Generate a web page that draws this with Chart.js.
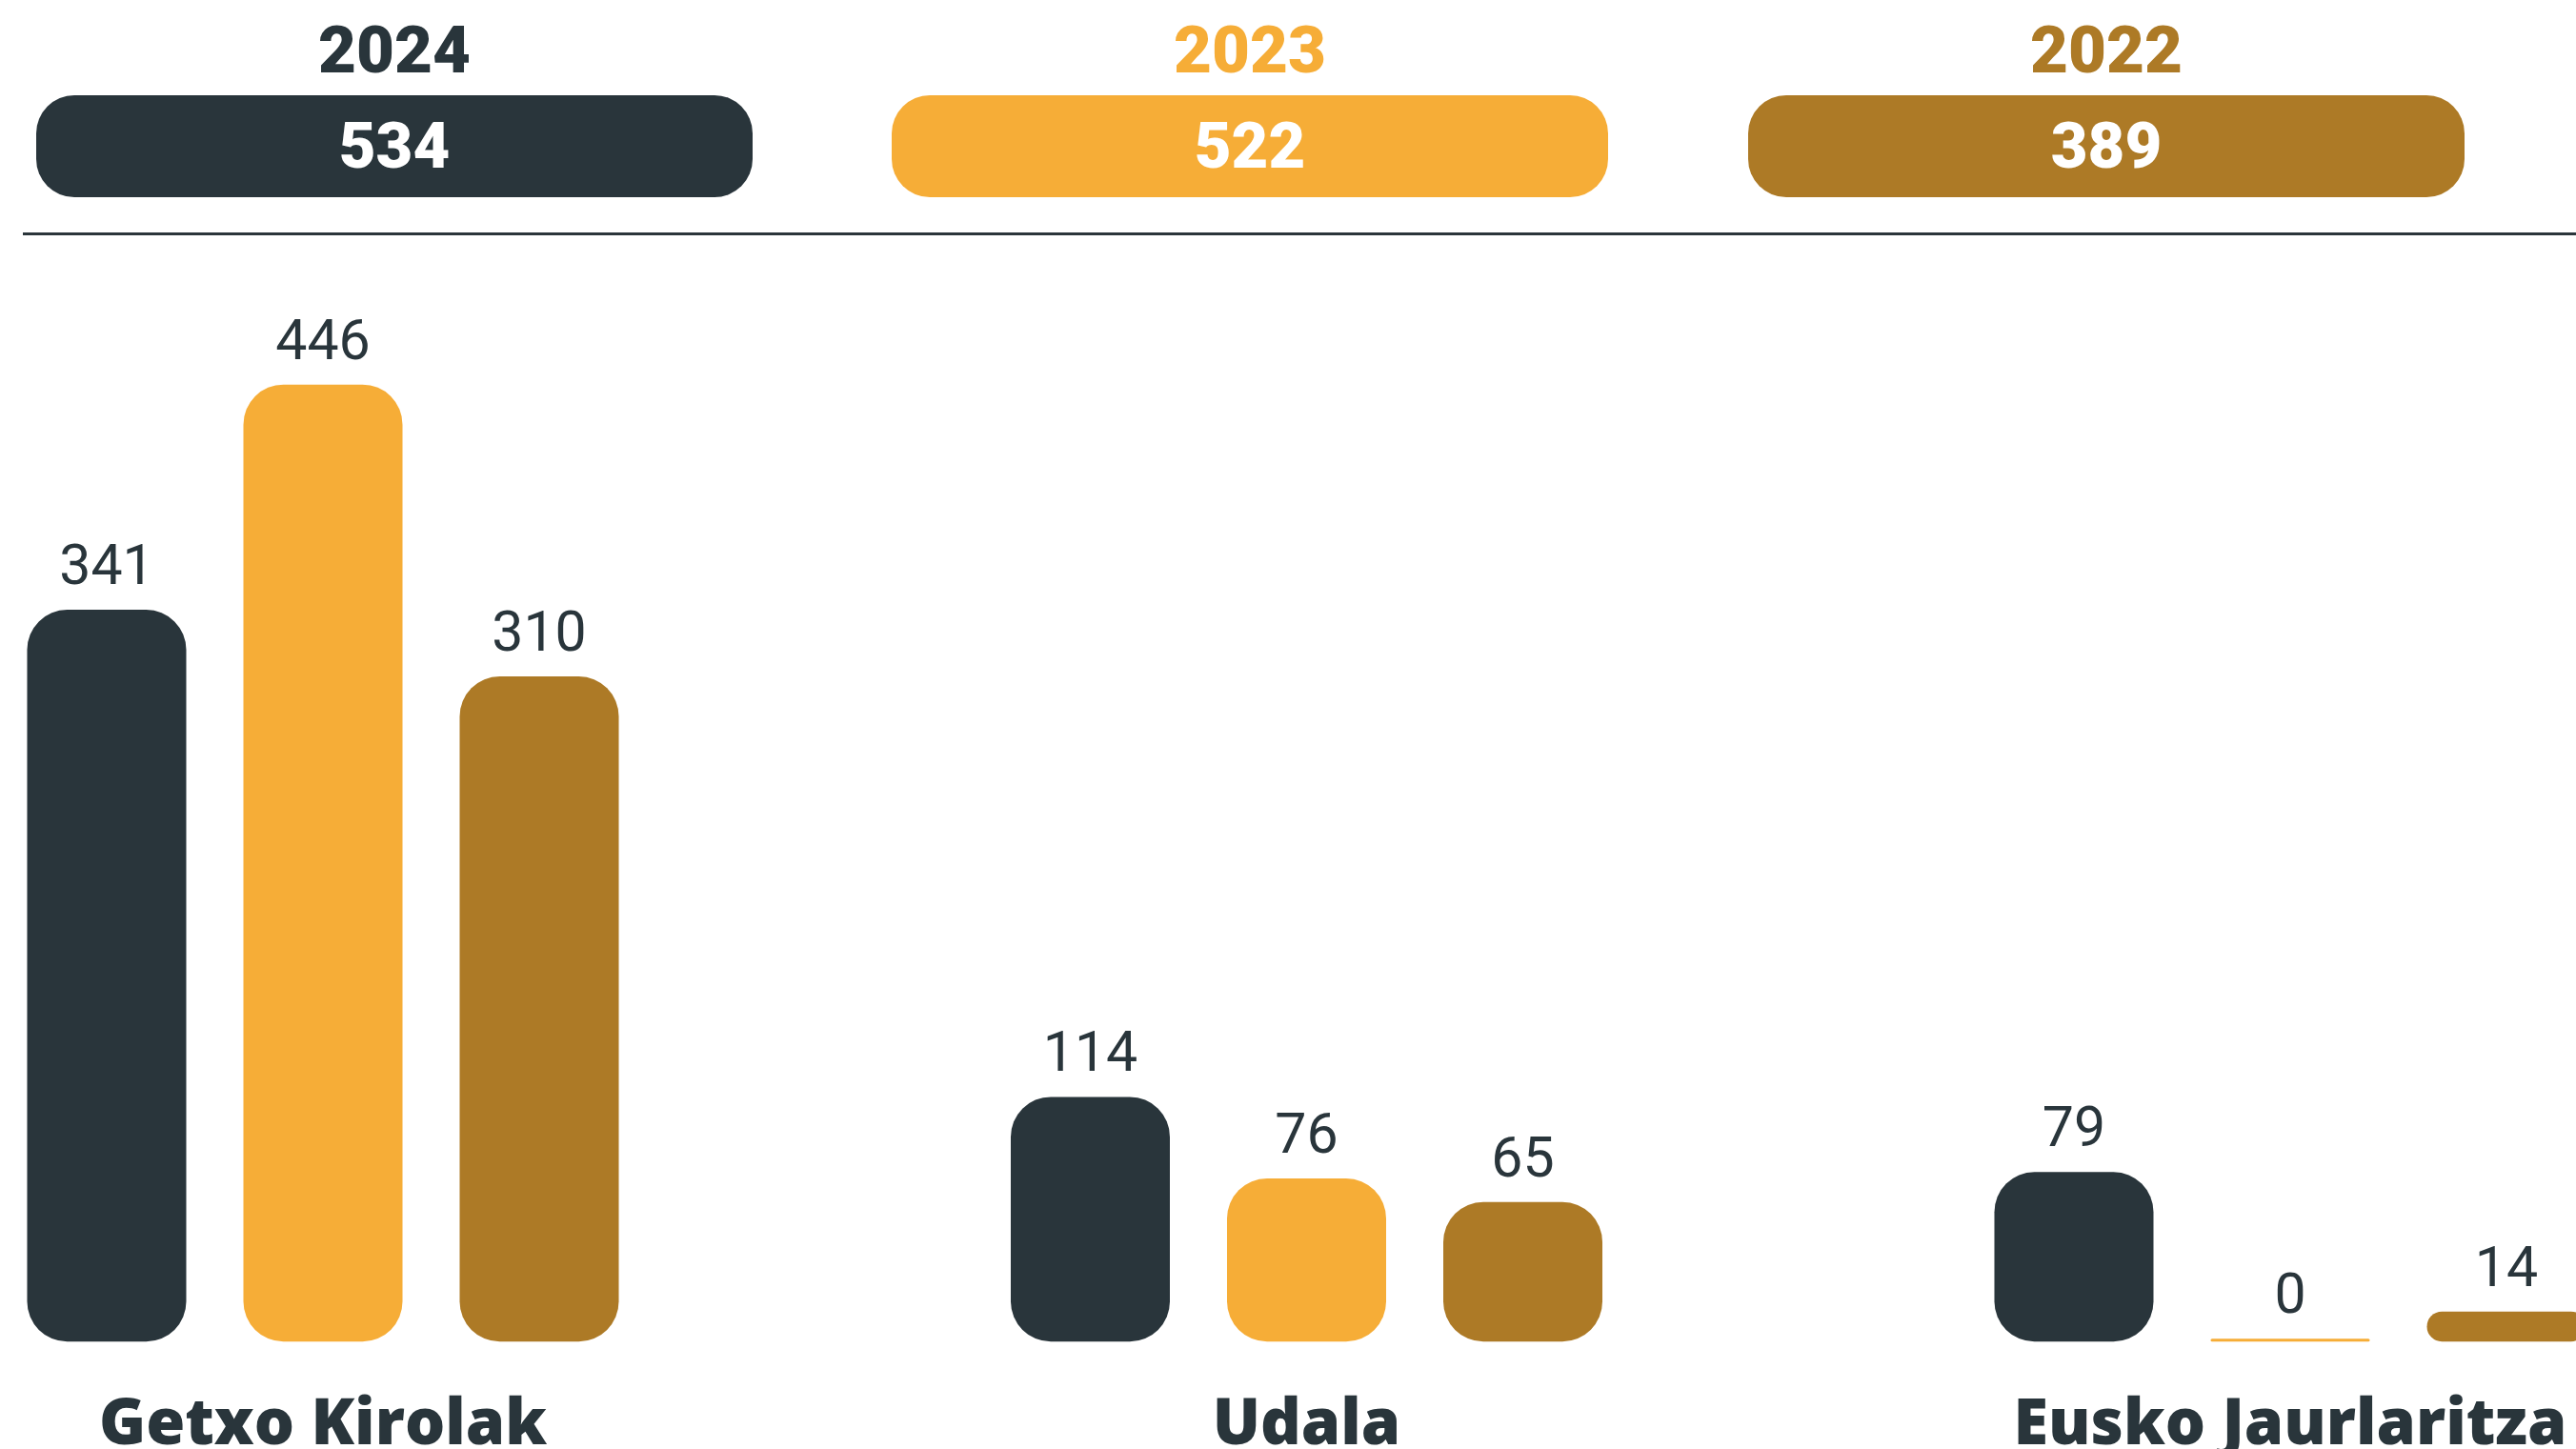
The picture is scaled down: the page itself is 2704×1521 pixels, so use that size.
<!DOCTYPE html>
<html>
<head>
<meta charset="utf-8">
<script src="https://cdn.jsdelivr.net/npm/chart.js@4.4.1/dist/chart.umd.min.js"></script>
<style>
  html, body { margin: 0; padding: 0; background: #fff; width: 2704px; height: 1521px; overflow: hidden; }
  #wrap { position: relative; width: 2704px; height: 1521px; overflow: hidden; }
  #chart { position: absolute; left: 0; top: 0; }
  .year { position: absolute; top: 18px; width: 752px; text-align: center; font: 900 69px Roboto; line-height: 69px; }
  .pill { position: absolute; top: 100px; height: 107px; width: 752px; border-radius: 40px; color: #fff;
          font: 900 67px Roboto; line-height: 67px; display: flex; align-items: center; justify-content: center; }
  .rule { position: absolute; left: 24px; right: 0; top: 244px; height: 3px; background: #2b353b; }
</style>
</head>
<body>
<div id="wrap">
  <div id="header"></div>
  <div class="rule"></div>
  <canvas id="chart" width="2704" height="1586"></canvas>
</div>
<script>
const categories = ['Getxo Kirolak', 'Udala', 'Eusko Jaurlaritza'];
const years = ['2024', '2023', '2022'];
const values2024 = [341, 114, 79];
const values2023 = [446, 76, 0];
const values2022 = [310, 65, 14];

const series = [values2024, values2023, values2022];
const colors = ['#29353b', '#f6ad37', '#ad7a26'];
const textColor = '#29353b';

// header: year + total pill for each series
const headerLeft = [38, 936, 1835];
const header = document.getElementById('header');
years.forEach((year, i) => {
  const total = series[i].reduce((a, b) => a + b, 0);
  const y = document.createElement('div');
  y.className = 'year';
  y.style.left = headerLeft[i] + 'px';
  y.style.color = colors[i];
  y.textContent = year;
  const p = document.createElement('div');
  p.className = 'pill';
  p.style.left = headerLeft[i] + 'px';
  p.style.background = colors[i];
  p.textContent = total;
  header.appendChild(y);
  header.appendChild(p);
});

// numbers above the bars
const valueLabels = {
  id: 'valueLabels',
  afterDatasetsDraw(chart) {
    const ctx = chart.ctx;
    ctx.save();
    ctx.font = '400 59px Roboto';
    ctx.fillStyle = textColor;
    ctx.textAlign = 'center';
    ctx.textBaseline = 'alphabetic';
    chart.data.datasets.forEach((ds, i) => {
      chart.getDatasetMeta(i).data.forEach((bar, j) => {
        const top = Math.min(bar.y, bar.base);
        ctx.fillText(String(ds.data[j]), bar.x, top - 27);
      });
    });
    ctx.restore();
  }
};

new Chart(document.getElementById('chart'), {
  type: 'bar',
  data: {
    labels: categories,
    datasets: years.map((year, i) => ({
      label: year,
      data: series[i],
      backgroundColor: colors[i],
      borderRadius: 42,
      borderSkipped: false,
      minBarLength: 3,
      clip: false,
      categoryPercentage: 0.6596,
      barPercentage: 0.7357
    }))
  },
  options: {
    responsive: false,
    animation: false,
    layout: { padding: { left: 339, right: 300, top: 282, bottom: 0 } },
    plugins: { legend: { display: false }, tooltip: { enabled: false } },
    scales: {
      x: {
        offset: false,
        grid: { display: false, drawTicks: false },
        border: { display: false },
        ticks: {
          padding: 0,
          color: textColor,
          autoSkip: false,
          maxRotation: 0,
          font: { family: 'Open Sans', size: 66.5, weight: 800, lineHeight: 2.674 }
        }
      },
      y: { display: false, min: 0, max: 500 }
    }
  },
  plugins: [valueLabels]
});
</script>
</body>
</html>
